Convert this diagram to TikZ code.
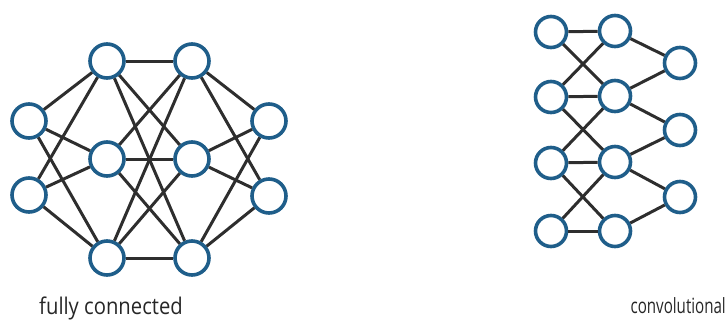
\documentclass[tikz,border=0pt]{standalone}
\usepackage{fontspec}
\setmainfont{Open Sans}

\definecolor{nodeblue}{HTML}{1F5E8A}
\definecolor{linkgray}{HTML}{2E2E2E}

\tikzset{
  neuron/.style={circle, draw=nodeblue, fill=white, line width=3.6pt,
                 minimum size=34pt, inner sep=0pt},
  smallneuron/.style={neuron, minimum size=31pt},
  link/.style={draw=linkgray, line width=3pt},
  caption/.style={text=black!85, inner sep=0pt}
}

\begin{document}
\begin{tikzpicture}[x=1pt, y=-1pt]

    \useasboundingbox (0,0) rectangle (727,322);

    % --- fully connected net ---
    \foreach \i/\y in {1/121, 2/195}
      \node[neuron] (in\i) at (29,\y) {};
    \foreach \i/\y in {1/61, 2/159, 3/258}
      \node[neuron] (hida\i) at (107,\y) {};
    \foreach \i/\y in {1/61, 2/159, 3/258}
      \node[neuron] (hidb\i) at (192,\y) {};
    \foreach \i/\y in {1/121, 2/196}
      \node[neuron] (out\i) at (269,\y) {};

    \foreach \i in {1,2}
      \foreach \j in {1,2,3}
        \draw[link] (in\i) -- (hida\j);
    \foreach \i in {1,2,3}
      \foreach \j in {1,2,3}
        \draw[link] (hida\i) -- (hidb\j);
    \foreach \i in {1,2,3}
      \foreach \j in {1,2}
        \draw[link] (hidb\i) -- (out\j);

    \node[caption, anchor=base, font=\fontsize{23}{25}\selectfont]
      (fclabel) at (111,314) {\scalebox{0.88}[1]{fully connected}};

    % --- convolutional net ---
    \foreach \i/\y in {1/32, 2/97, 3/163, 4/231}
      \node[smallneuron] (cin\i) at (551,\y) {};
    \foreach \i/\y in {1/31, 2/96, 3/162, 4/231}
      \node[smallneuron] (chid\i) at (615,\y) {};
    \foreach \i/\y in {1/63, 2/130, 3/197}
      \node[smallneuron] (cout\i) at (680,\y) {};

    % each unit sees its neighbours only
    \foreach \i in {1,...,4}
      \draw[link] (cin\i) -- (chid\i);
    \foreach \i [evaluate=\i as \k using int(\i+1)] in {1,2,3} {
      \draw[link] (cin\i) -- (chid\k);
      \draw[link] (cin\k) -- (chid\i);
      \draw[link] (chid\i) -- (cout\i);
      \draw[link] (chid\k) -- (cout\i);
    }

    \node[caption, anchor=base east, font=\fontsize{21}{23}\selectfont]
      (convlabel) at (726,313) {\scalebox{0.72}[1]{convolutional}};

\end{tikzpicture}
\end{document}
